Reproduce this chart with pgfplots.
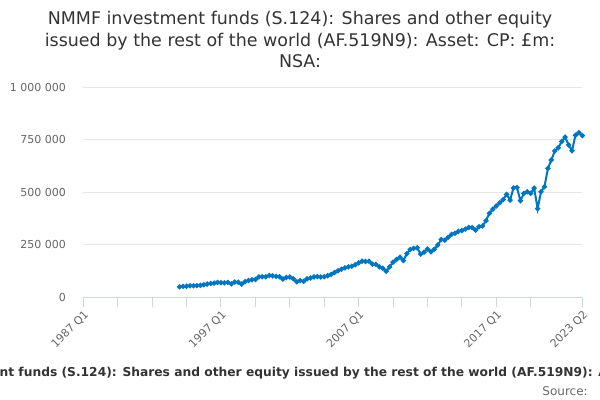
\documentclass[border=0pt]{standalone}
\usepackage{pgfplots}
\pgfplotsset{compat=1.18}
\usepackage{fontspec}
\setmainfont{DejaVu Sans}
\definecolor{linec}{RGB}{0,118,194}
\definecolor{titlec}{HTML}{333333}
\definecolor{tickc}{HTML}{666666}
\definecolor{gridc}{HTML}{E6E6E6}
\definecolor{axisc}{HTML}{CCD6EB}
\pgfplotstableread{
q v
28 50000
29 52000
30 53000
31 55000
32 55000
33 56000
34 57000
35 60000
36 63000
37 66000
38 68000
39 71000
40 70000
41 69000
42 71000
43 64000
44 73000
45 72000
46 63000
47 75000
48 80000
49 84000
50 85000
51 97000
52 98000
53 98000
54 104000
55 102000
56 100000
57 98000
58 87000
59 95000
60 97000
61 88000
62 74000
63 80000
64 76000
65 88000
66 92000
67 97000
68 99000
69 97000
70 98000
71 103000
72 109000
73 118000
74 127000
75 134000
76 140000
77 145000
78 148000
79 155000
80 164000
81 172000
82 171000
83 172000
84 158000
85 157000
86 145000
87 138000
88 124000
89 145000
90 167000
91 180000
92 191000
93 175000
94 208000
95 228000
96 233000
97 236000
98 206000
99 215000
100 230000
101 217000
102 229000
103 249000
104 275000
105 272000
106 285000
107 300000
108 305000
109 314000
110 318000
111 325000
112 333000
113 332000
114 320000
115 336000
116 340000
117 365000
118 400000
119 420000
120 435000
121 450000
122 465000
123 490000
124 463000
125 521000
126 523000
127 460000
128 495000
129 503000
130 495000
131 520000
132 422000
133 503000
134 527000
135 614000
136 654000
137 697000
138 712000
139 742000
140 763000
141 726000
142 698000
143 772000
144 784000
145 770000
}\datatable
\begin{document}
\begin{tikzpicture}
\path[use as bounding box] (0,0) rectangle (450pt,300pt);
\node[anchor=base, color=titlec, font=\fontsize{13.1pt}{15pt}\selectfont, inner sep=0] at (225pt,281.25pt) {NMMF investment funds (S.124): Shares and other equity};
\node[anchor=base, color=titlec, font=\fontsize{13.1pt}{15pt}\selectfont, inner sep=0] at (225pt,265.2pt) {issued by the rest of the world (AF.519N9): Asset: CP: £m:};
\node[anchor=base, color=titlec, font=\fontsize{13.1pt}{15pt}\selectfont, inner sep=0] at (225pt,249.4pt) {NSA:};
\begin{axis}[
  at={(62.5pt,77pt)}, anchor=south west,
  scale only axis, width=374.25pt, height=157.5pt,
  xmin=0, xmax=145, ymin=0, ymax=1000000,
  axis lines*=left,
  axis line style={-},
  x axis line style={axisc, line width=0.75pt},
  y axis line style={draw=none},
  xtick={0,10,20,30,40,50,60,70,80,90,100,110,120,130,145},
  xticklabels={1987 Q1,{},{},{},1997 Q1,{},{},{},2007 Q1,{},{},{},2017 Q1,{},2023 Q2},
  xtick style={axisc, line width=0.75pt},
  ytick style={draw=none},
  tick align=outside, major tick length=7.5pt,
  ytick={0,250000,500000,750000,1000000},
  yticklabels={0,250 000,500 000,750 000,1 000 000},
  scaled y ticks=false,
  ymajorgrids, grid style={gridc, line width=0.75pt},
  tick label style={color=tickc, font=\fontsize{8.25pt}{10pt}\selectfont},
  xticklabel style={rotate=45, anchor=north east, inner sep=1pt},
  yticklabel style={anchor=east, xshift=-2pt},
  clip=false,
]
\addplot[color=linec, line width=1.5pt, mark=*, mark size=1.1pt, mark options={solid}] table[x=q, y=v] {\datatable};
\end{axis}
\node[anchor=base west, inner sep=0, color=titlec, font=\bfseries\fontsize{9.2pt}{11pt}\selectfont] at (-0.5pt,17.25pt) {\llap{NMMF investme}nt funds (S.124): Shares and other equity issued by the rest of the world (AF.519N9): Asset: CP: £m: NSA:};
\node[anchor=base east, inner sep=0, color=tickc, font=\fontsize{9pt}{11pt}\selectfont] at (441pt,3.75pt) {Source:};
\end{tikzpicture}
\end{document}
